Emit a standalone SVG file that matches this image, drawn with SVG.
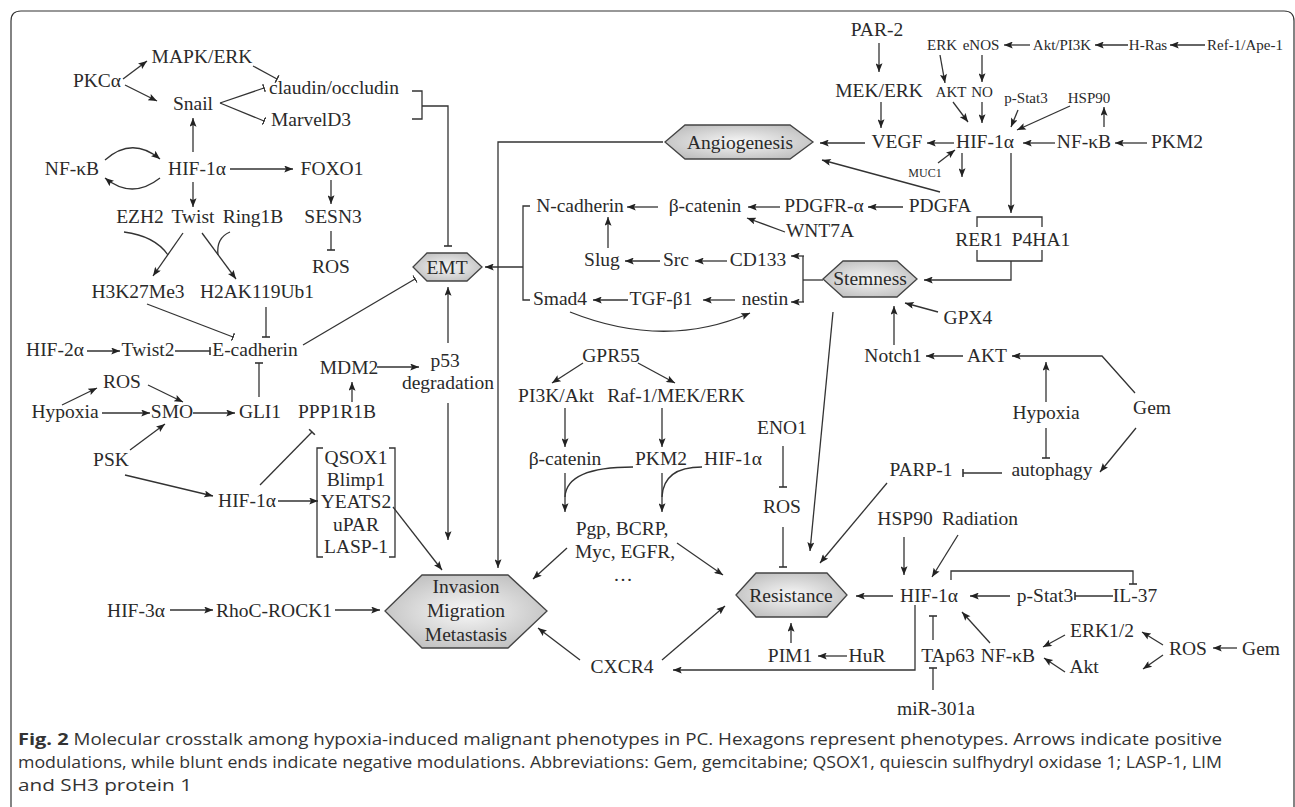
<svg xmlns="http://www.w3.org/2000/svg" width="1295" height="807" viewBox="0 0 1295 807">
<defs>
<style>
.t{font-family:"Liberation Serif","Times New Roman",serif;font-size:19.5px;fill:#2a2a2a;text-anchor:middle}
.s{font-size:15px}
.xs{font-size:12px}
.c{stroke:#333;stroke-width:1.3;fill:none}
.a{marker-end:url(#arr)}
.b{marker-end:url(#bar)}
.hx{fill:url(#hg);stroke:#444;stroke-width:1.3}
.cap{font-family:"Open Sans","Noto Sans",sans-serif;font-size:15.5px;fill:#333}
</style>
<marker id="arr" viewBox="0 0 10 8" refX="10" refY="4" markerWidth="10" markerHeight="7" orient="auto" markerUnits="userSpaceOnUse"><path d="M0,0 L10,4 L0,8 L2,4 z" fill="#222"/></marker>
<marker id="bar" viewBox="0 0 2 10" refX="1" refY="5" markerWidth="1.6" markerHeight="9" orient="auto" markerUnits="userSpaceOnUse"><rect x="0" y="0" width="2" height="10" fill="#333"/></marker>
<radialGradient id="hg" cx="50%" cy="50%" r="60%"><stop offset="0" stop-color="#f7f7f7"/><stop offset="1" stop-color="#bdbdbd"/></radialGradient>
</defs>
<rect width="1295" height="807" fill="#fff"/>
<path d="M11,807 V21 Q11,11 21,11 H1284 Q1294,11 1294,21 V807" fill="none" stroke="#333" stroke-width="1.2"/>

<g id="connectors">
<path class="c a" d="M123,79 L147,61"/>
<path class="c a" d="M125,85 L157,101"/>
<path class="c b" d="M253,66 L277,79"/>
<path class="c b" d="M220,103 L264,88"/>
<path class="c b" d="M220,103 L264,121"/>
<path class="c" d="M412,91 H422 V119 H412"/>
<path class="c b" d="M422,106 H448 V246"/>
<path class="c a" d="M193,152 L193,118"/>
<path class="c a" d="M105,160 Q132,136 160,159"/>
<path class="c a" d="M160,178 Q132,200 105,178"/>
<path class="c a" d="M230,169 L293,169"/>
<path class="c a" d="M331,180 L331,204"/>
<path class="c a" d="M193,182 L193,207"/>
<path class="c b" d="M331,231 L331,250"/>
<path class="c a" d="M183,233 L153,276"/>
<path class="c" d="M124,232 Q155,236 168,255"/>
<path class="c a" d="M202,233 L236,279"/>
<path class="c" d="M230,232 Q216,238 218,255"/>
<path class="c b" d="M147,304 L233,337"/>
<path class="c b" d="M266,307 L266,337"/>
<path class="c a" d="M87,351 L120,351"/>
<path class="c b" d="M175,351 L210,351"/>
<path class="c b" d="M303,345 L415,279"/>
<path class="c a" d="M377,367 L419,367"/>
<path class="c b" d="M259,397 L259,363"/>
<path class="c a" d="M352,402 L352,382"/>
<path class="c a" d="M62,405 L97,388"/>
<path class="c a" d="M148,385 L183,402"/>
<path class="c a" d="M102,413 L150,413"/>
<path class="c a" d="M193,413 L235,413"/>
<path class="c a" d="M130,450 L165,424"/>
<path class="c a" d="M125,475 L213,496"/>
<path class="c b" d="M260,485 L312,432"/>
<path class="c a" d="M278,501 L318,501"/>
<path class="c a" d="M393,507 L442,570"/>
<path class="c a" d="M170,610 L213,610"/>
<path class="c a" d="M335,610 L380,610"/>
<path class="c a" d="M448,343 L448,287"/>
<path class="c a" d="M448,403 L448,540"/>
<path class="c a" d="M663,142 H498 V568"/>
<path class="c" d="M530,206 H523 V300 H530"/>
<path class="c a" d="M523,267 H485"/>
<path class="c a" d="M658,207 L627,207"/>
<path class="c a" d="M780,207 L748,207"/>
<path class="c a" d="M785,232 L747,218"/>
<path class="c a" d="M608,248 L608,217"/>
<path class="c a" d="M660,261 L625,261"/>
<path class="c a" d="M727,261 L695,261"/>
<path class="c a" d="M628,300 L593,300"/>
<path class="c a" d="M735,300 L703,300"/>
<path class="c a" d="M570,312 Q665,350 750,313"/>
<path class="c" d="M803,280 H823"/>
<path class="c" d="M803,256 V302"/>
<path class="c a" d="M804,256 H791"/>
<path class="c a" d="M804,302 H791"/>
<path class="c a" d="M583,363 L552,383"/>
<path class="c a" d="M638,363 L675,383"/>
<path class="c a" d="M565,408 L565,447"/>
<path class="c a" d="M662,408 L662,447"/>
<path class="c a" d="M565,473 L565,512"/>
<path class="c" d="M633,467 C595,467 566,474 565,497"/>
<path class="c a" d="M662,473 L662,512"/>
<path class="c" d="M702,467 C680,467 663,474 662,497"/>
<path class="c a" d="M567,548 L533,579"/>
<path class="c a" d="M677,543 L723,575"/>
<path class="c b" d="M783,446 L783,487"/>
<path class="c b" d="M783,527 L783,567"/>
<path class="c a" d="M833,312 L810,551"/>
<path class="c a" d="M887,483 L820,563"/>
<path class="c a" d="M580,660 L538,628"/>
<path class="c a" d="M662,660 L725,606"/>
<path class="c a" d="M915,605 V670 H673"/>
<path class="c a" d="M791,643 L791,623"/>
<path class="c a" d="M847,656 L818,656"/>
<path class="c a" d="M904,537 L904,575"/>
<path class="c a" d="M958,535 L932,577"/>
<path class="c a" d="M893,596 L856,596"/>
<path class="c a" d="M1010,596 L970,596"/>
<path class="c b" d="M1113,596 L1075,596"/>
<path class="c b" d="M951,580 V571 H1133 V584"/>
<path class="c b" d="M933,640 L933,616"/>
<path class="c a" d="M990,643 L962,612"/>
<path class="c b" d="M933,690 L933,668"/>
<path class="c a" d="M1065,635 L1043,647"/>
<path class="c a" d="M1065,672 L1044,658"/>
<path class="c a" d="M1163,645 L1142,632"/>
<path class="c a" d="M1163,655 L1143,669"/>
<path class="c a" d="M1237,648 L1213,648"/>
<path class="c a" d="M879,43 L879,72"/>
<path class="c a" d="M881,102 L881,128"/>
<path class="c a" d="M865,143 L820,143"/>
<path class="c a" d="M954,143 L927,143"/>
<path class="c a" d="M1055,143 L1023,143"/>
<path class="c a" d="M1147,143 L1115,143"/>
<path class="c a" d="M1104,127 L1104,107"/>
<path class="c a" d="M1070,106 L1017,130"/>
<path class="c a" d="M1018,110 L1011,127"/>
<path class="c a" d="M953,102 L968,122"/>
<path class="c a" d="M982,102 L982,123"/>
<path class="c a" d="M940,55 L945,83"/>
<path class="c a" d="M982,55 L982,82"/>
<path class="c a" d="M1030,45 L1004,45"/>
<path class="c a" d="M1128,45 L1095,45"/>
<path class="c a" d="M1205,45 L1170,45"/>
<path class="c a" d="M938,163 L955,150"/>
<path class="c a" d="M962,153 L962,177"/>
<path class="c a" d="M903,207 L868,207"/>
<path class="c a" d="M940,192 L822,160"/>
<path class="c a" d="M1011,153 L1011,213"/>
<path class="c" d="M977,227 V217 H1042 V227"/>
<path class="c" d="M977,250 V261 H1042 V250"/>
<path class="c a" d="M1011,261 V280 H924"/>
<path class="c a" d="M938,312 L905,303"/>
<path class="c a" d="M894,345 L894,306"/>
<path class="c a" d="M963,356 L926,356"/>
<path class="c a" d="M1135,393 L1102,356 H1012"/>
<path class="c a" d="M1046,402 L1046,362"/>
<path class="c b" d="M1046,428 L1046,458"/>
<path class="c a" d="M1136,428 L1100,472"/>
<path class="c b" d="M1002,473 L963,473"/>
</g>

<g id="hex-angiogenesis"><polygon class="hx" points="665,142 685,125 790,125 813,142 790,159 685,159"/><text class="t" x="740" y="149">Angiogenesis</text></g>
<g id="hex-emt"><polygon class="hx" points="413,267 427,253 467,253 482,267 467,281 427,281"/><text class="t" x="447" y="274">EMT</text></g>
<g id="hex-stemness"><polygon class="hx" points="823,279 843,261 897,261 917,279 897,297 843,297"/><text class="t" x="870" y="285">Stemness</text></g>
<g id="hex-resistance"><polygon class="hx" points="736,595 756,573 827,573 847,595 827,617 756,617"/><text class="t" x="791" y="602">Resistance</text></g>
<g id="hex-invasion"><polygon class="hx" points="385,611 422,575 508,575 547,611 508,648 422,648"/><text class="t" x="466" y="593">Invasion</text><text class="t" x="466" y="617">Migration</text><text class="t" x="466" y="641">Metastasis</text></g>

<g id="n-mapk"><text class="t" x="202" y="63">MAPK/ERK</text></g>
<g id="n-pkca"><text class="t" x="97" y="87">PKCα</text></g>
<g id="n-snail"><text class="t" x="193" y="110">Snail</text></g>
<g id="n-claudin"><text class="t" x="334" y="94">claudin/occludin</text></g>
<g id="n-marveld3"><text class="t" x="311" y="126">MarvelD3</text></g>
<g id="n-nfkb1"><text class="t" x="72" y="175">NF-κB</text></g>
<g id="n-hif1a-1"><text class="t" x="197" y="175">HIF-1α</text></g>
<g id="n-foxo1"><text class="t" x="332" y="175">FOXO1</text></g>
<g id="n-sesn3"><text class="t" x="333" y="223">SESN3</text></g>
<g id="n-ezh2"><text class="t" x="140" y="223">EZH2</text></g>
<g id="n-twist"><text class="t" x="193" y="223">Twist</text></g>
<g id="n-ring1b"><text class="t" x="253" y="223">Ring1B</text></g>
<g id="n-ros1"><text class="t" x="331" y="273">ROS</text></g>
<g id="n-h3k27me3"><text class="t" x="138" y="298">H3K27Me3</text></g>
<g id="n-h2ak119ub1"><text class="t" x="257" y="298">H2AK119Ub1</text></g>
<g id="n-hif2a"><text class="t" x="55" y="356">HIF-2α</text></g>
<g id="n-twist2"><text class="t" x="148" y="356">Twist2</text></g>
<g id="n-ecadherin"><text class="t" x="255" y="356">E-cadherin</text></g>
<g id="n-mdm2"><text class="t" x="349" y="374">MDM2</text></g>
<g id="n-p53"><text class="t" x="445" y="367">p53</text><text class="t" x="448" y="389">degradation</text></g>
<g id="n-ros2"><text class="t" x="122" y="388">ROS</text></g>
<g id="n-hypoxia1"><text class="t" x="65" y="418">Hypoxia</text></g>
<g id="n-smo"><text class="t" x="172" y="418">SMO</text></g>
<g id="n-gli1"><text class="t" x="260" y="418">GLI1</text></g>
<g id="n-ppp1r1b"><text class="t" x="337" y="418">PPP1R1B</text></g>
<g id="n-psk"><text class="t" x="111" y="466">PSK</text></g>
<g id="n-hif1a-2"><text class="t" x="247" y="507">HIF-1α</text></g>
<g id="n-box"><path class="c" d="M323,448 H317 V557 H323 M389,448 H395 V557 H389"/><text class="t" x="356" y="464">QSOX1</text><text class="t" x="356" y="486">Blimp1</text><text class="t" x="356" y="508">YEATS2</text><text class="t" x="356" y="531">uPAR</text><text class="t" x="356" y="553">LASP-1</text></g>
<g id="n-hif3a"><text class="t" x="136" y="617">HIF-3α</text></g>
<g id="n-rhoc"><text class="t" x="274" y="617">RhoC-ROCK1</text></g>

<g id="n-ncadherin"><text class="t" x="580" y="212">N-cadherin</text></g>
<g id="n-bcatenin1"><text class="t" x="705" y="212">β-catenin</text></g>
<g id="n-pdgfra"><text class="t" x="824" y="212">PDGFR-α</text></g>
<g id="n-wnt7a"><text class="t" x="820" y="237">WNT7A</text></g>
<g id="n-slug"><text class="t" x="602" y="266">Slug</text></g>
<g id="n-src"><text class="t" x="676" y="266">Src</text></g>
<g id="n-cd133"><text class="t" x="758" y="266">CD133</text></g>
<g id="n-smad4"><text class="t" x="560" y="305">Smad4</text></g>
<g id="n-tgfb1"><text class="t" x="661" y="305">TGF-β1</text></g>
<g id="n-nestin"><text class="t" x="765" y="305">nestin</text></g>
<g id="n-gpr55"><text class="t" x="611" y="362">GPR55</text></g>
<g id="n-pi3kakt"><text class="t" x="556" y="402">PI3K/Akt</text></g>
<g id="n-raf1"><text class="t" x="676" y="402">Raf-1/MEK/ERK</text></g>
<g id="n-bcatenin2"><text class="t" x="565" y="465">β-catenin</text></g>
<g id="n-pkm2a"><text class="t" x="661" y="465">PKM2</text></g>
<g id="n-hif1a-3"><text class="t" x="733" y="465">HIF-1α</text></g>
<g id="n-pgp"><text class="t" x="622" y="535">Pgp, BCRP,</text><text class="t" x="625" y="558">Myc, EGFR,</text><text class="t" x="623" y="581">…</text></g>
<g id="n-eno1"><text class="t" x="782" y="434">ENO1</text></g>
<g id="n-ros3"><text class="t" x="782" y="513">ROS</text></g>
<g id="n-cxcr4"><text class="t" x="622" y="673">CXCR4</text></g>
<g id="n-pim1"><text class="t" x="790" y="662">PIM1</text></g>
<g id="n-hur"><text class="t" x="867" y="662">HuR</text></g>

<g id="n-par2"><text class="t" x="877" y="36">PAR-2</text></g>
<g id="n-mekerk"><text class="t" x="879" y="97">MEK/ERK</text></g>
<g id="n-vegf"><text class="t" x="897" y="148">VEGF</text></g>
<g id="n-hif1a-4"><text class="t" x="985" y="148">HIF-1α</text></g>
<g id="n-nfkb2"><text class="t" x="1084" y="148">NF-κB</text></g>
<g id="n-pkm2b"><text class="t" x="1177" y="148">PKM2</text></g>
<g id="n-erk"><text class="t s" x="942" y="50">ERK</text></g>
<g id="n-enos"><text class="t s" x="981" y="50">eNOS</text></g>
<g id="n-aktpi3k"><text class="t s" x="1062" y="50">Akt/PI3K</text></g>
<g id="n-hras"><text class="t s" x="1148" y="50">H-Ras</text></g>
<g id="n-ref1"><text class="t s" x="1245" y="50">Ref-1/Ape-1</text></g>
<g id="n-akt1"><text class="t s" x="951" y="97">AKT</text></g>
<g id="n-no"><text class="t s" x="982" y="97">NO</text></g>
<g id="n-pstat3a"><text class="t s" x="1026" y="103">p-Stat3</text></g>
<g id="n-hsp90a"><text class="t s" x="1089" y="103">HSP90</text></g>
<g id="n-muc1"><text class="t xs" x="925" y="177">MUC1</text></g>
<g id="n-pdgfa"><text class="t" x="940" y="212">PDGFA</text></g>
<g id="n-rer1"><text class="t" x="979" y="246">RER1</text><text class="t" x="1041" y="246">P4HA1</text></g>
<g id="n-gpx4"><text class="t" x="968" y="324">GPX4</text></g>
<g id="n-notch1"><text class="t" x="893" y="362">Notch1</text></g>
<g id="n-akt2"><text class="t" x="987" y="362">AKT</text></g>
<g id="n-hypoxia2"><text class="t" x="1046" y="419">Hypoxia</text></g>
<g id="n-gem1"><text class="t" x="1152" y="414">Gem</text></g>
<g id="n-autophagy"><text class="t" x="1052" y="476">autophagy</text></g>
<g id="n-parp1"><text class="t" x="921" y="476">PARP-1</text></g>
<g id="n-hsp90b"><text class="t" x="905" y="525">HSP90</text></g>
<g id="n-radiation"><text class="t" x="980" y="525">Radiation</text></g>
<g id="n-hif1a-5"><text class="t" x="929" y="602">HIF-1α</text></g>
<g id="n-pstat3b"><text class="t" x="1045" y="602">p-Stat3</text></g>
<g id="n-il37"><text class="t" x="1135" y="602">IL-37</text></g>
<g id="n-tap63"><text class="t" x="948" y="662">TAp63</text></g>
<g id="n-nfkb3"><text class="t" x="1008" y="662">NF-κB</text></g>
<g id="n-erk12"><text class="t" x="1102" y="637">ERK1/2</text></g>
<g id="n-akt3"><text class="t" x="1084" y="673">Akt</text></g>
<g id="n-ros4"><text class="t" x="1188" y="655">ROS</text></g>
<g id="n-gem2"><text class="t" x="1261" y="655">Gem</text></g>
<g id="n-mir301a"><text class="t" x="936" y="715">miR-301a</text></g>

<g id="caption">
<text class="cap" x="18" y="745" textLength="1204" lengthAdjust="spacingAndGlyphs"><tspan font-weight="bold" font-size="16.5px">Fig. 2</tspan>  Molecular crosstalk among hypoxia-induced malignant phenotypes in PC. Hexagons represent phenotypes. Arrows indicate positive</text>
<text class="cap" x="18" y="768" textLength="1204" lengthAdjust="spacingAndGlyphs">modulations, while blunt ends indicate negative modulations. Abbreviations: Gem, gemcitabine; QSOX1, quiescin sulfhydryl oxidase 1; LASP-1, LIM</text>
<text class="cap" x="18" y="791" textLength="174" lengthAdjust="spacingAndGlyphs">and SH3 protein 1</text>
</g>
</svg>
